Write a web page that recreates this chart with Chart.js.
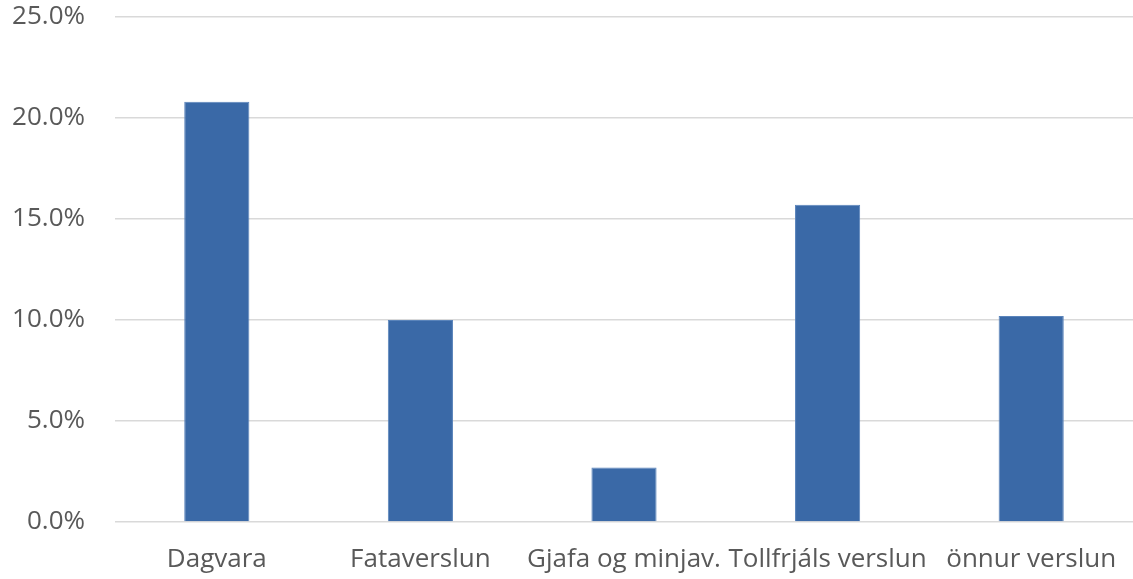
<!DOCTYPE html>
<html>
<head>
<meta charset="utf-8">
<script src="https://cdn.jsdelivr.net/npm/chart.js@4"></script>
<style>
  html, body { margin: 0; padding: 0; background: #fff; }
  #wrap { width: 1133px; height: 579px; }
</style>
</head>
<body>
<div id="wrap"><canvas id="graph"></canvas></div>
<script>
// Données
const categories = ["Dagvara", "Fataverslun", "Gjafa og minjav.", "Tollfrjáls verslun", "önnur verslun"];
const valeurs = [20.8, 10.0, 2.7, 15.7, 10.2];
const yMin = 0;
const yMax = 25;
const yPas = 5;

const police = "'Open Sans', 'Liberation Sans', sans-serif";

new Chart(document.getElementById("graph"), {
  type: "bar",
  data: {
    labels: categories,
    datasets: [
      {
        data: valeurs,
        backgroundColor: "#3a69a7",
        borderColor: "#5a84bb",
        borderWidth: 1,
        categoryPercentage: 1,
        barPercentage: 0.32,
      },
    ],
  },
  options: {
    responsive: true,
    maintainAspectRatio: false,
    animation: false,
    layout: { padding: { top: 17, right: -6, left: 0, bottom: 0 } },
    plugins: {
      legend: { display: false },
      tooltip: { enabled: false },
    },
    scales: {
      x: {
        grid: { display: false, drawTicks: false },
        border: { display: false },
        ticks: {
          color: "#595959",
          font: { family: police, size: 26 },
          padding: 22,
          maxRotation: 0,
          autoSkip: false,
        },
        afterFit: (axe) => {
          axe.height = 57;
          axe.paddingLeft = 0;
          axe.paddingRight = 0;
        },
      },
      y: {
        min: yMin,
        max: yMax,
        grid: { color: "#d9d9d9", lineWidth: 1.5, drawTicks: false },
        border: { display: false },
        ticks: {
          stepSize: yPas,
          color: "#595959",
          font: { family: police, size: 26 },
          padding: 30,
          callback: (v) => v.toFixed(1) + "%",
        },
        afterFit: (axe) => {
          axe.width = 115;
          axe.paddingTop = 0;
          axe.paddingBottom = 0;
        },
      },
    },
  },
});
</script>
</body>
</html>
